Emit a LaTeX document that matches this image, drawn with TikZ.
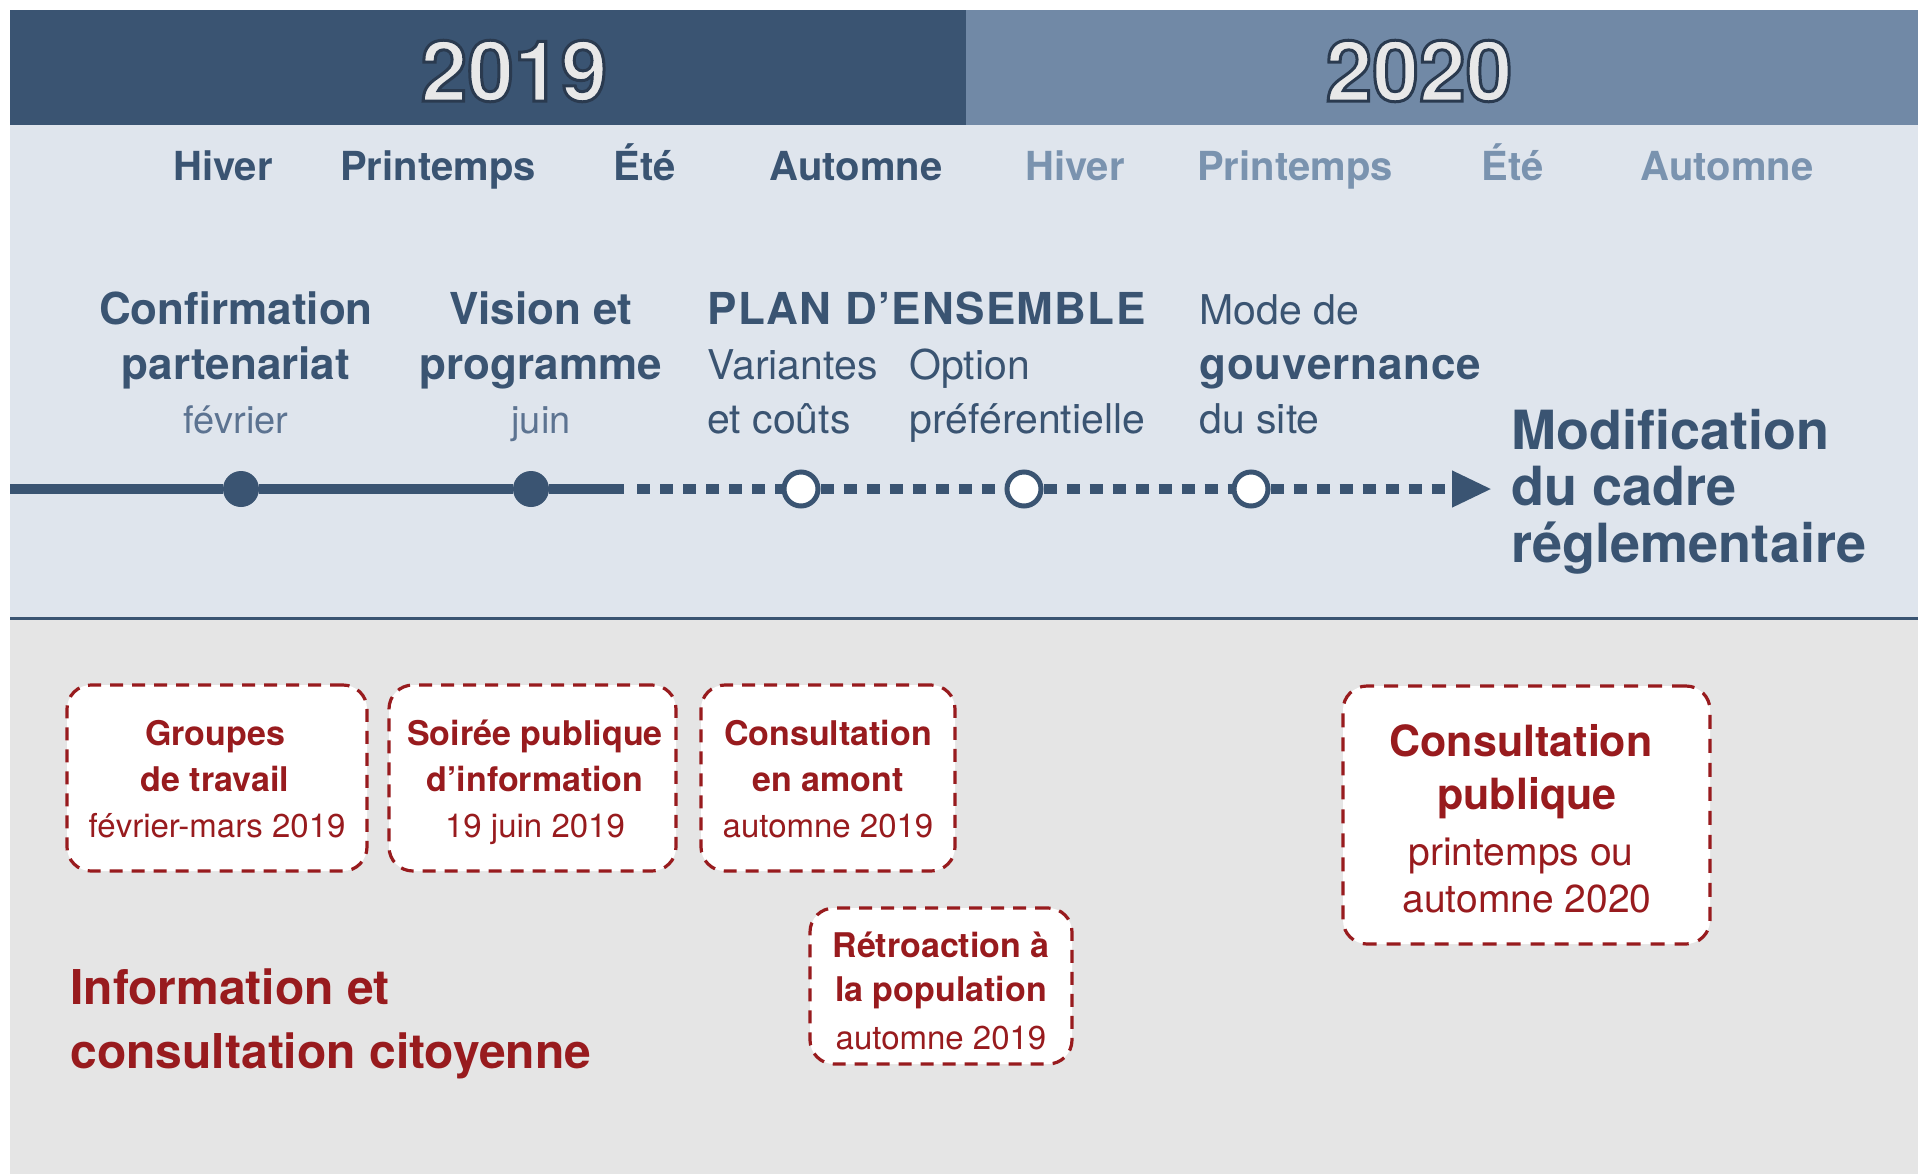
\documentclass[tikz,border=0pt]{standalone}
\usepackage{fontspec}
\setmainfont{TeX Gyre Heros}
\usetikzlibrary{arrows.meta,calc}
\definecolor{navy}{HTML}{3A5472}
\definecolor{steel}{HTML}{7189A6}
\definecolor{seasonlight}{HTML}{7A93AF}
\definecolor{paleblue}{HTML}{DFE5ED}
\definecolor{palegrey}{HTML}{E5E5E5}
\definecolor{brick}{HTML}{981B1E}
\definecolor{yearfill}{HTML}{E8E8E8}
\definecolor{softnavy}{HTML}{5C7391}
\newcommand{\yearout}[1]{{\color{yearfill}\special{pdf:literal direct 2 Tr 1.5 w 0.165 0.227 0.31 RG}#1\special{pdf:literal direct 0 Tr}}}
\begin{document}
\begin{tikzpicture}[x=0.5pt,y=-0.5pt,
  every node/.style={inner sep=0pt},
  yeartxt/.style={font=\fontsize{42}{42}\selectfont\bfseries},
  season/.style={font=\fontsize{20}{24}\selectfont\bfseries, anchor=mid},
  ttl/.style={font=\fontsize{22}{26}\selectfont\bfseries, text=navy, anchor=mid},
  ttlw/.style={font=\fontsize{22}{26}\selectfont\bfseries, text=navy, anchor=mid west},
  subc/.style={font=\fontsize{19}{23}\selectfont, text=softnavy, anchor=mid},
  regw/.style={font=\fontsize{20.5}{24}\selectfont, text=navy, anchor=mid west},
  bigw/.style={font=\fontsize{27}{32}\selectfont\bfseries, text=navy, anchor=mid west},
  fulldot/.style={circle, fill=navy, minimum size=18pt},
  opendot/.style={circle, fill=white, draw=navy, line width=2.5pt, minimum size=17pt},
  solidline/.style={navy, line width=5pt},
  dashline/.style={navy, line width=5pt, dash pattern=on 6.5pt off 5pt},
  evbox/.style={draw=brick, fill=white, line width=1.6pt, dash pattern=on 6.5pt off 4.5pt, rounded corners=12pt},
  boxttl/.style={font=\fontsize{17}{20}\selectfont\bfseries, text=brick, anchor=mid},
  boxsub/.style={font=\fontsize{16.5}{20}\selectfont, text=brick, anchor=mid},
  bigttl/.style={font=\fontsize{21.5}{26}\selectfont\bfseries, text=brick, anchor=mid},
  bigsub/.style={font=\fontsize{19.5}{24}\selectfont, text=brick, anchor=mid},
  infottl/.style={font=\fontsize{24}{28}\selectfont\bfseries, text=brick, anchor=mid west}
]
\useasboundingbox (0,0) rectangle (1918,1174);
\fill[white] (0,0) rectangle (1918,1174);
% bands
\fill[navy] (10,10) rectangle (966,125);
\fill[steel] (966,10) rectangle (1918,125);
\fill[paleblue] (10,125) rectangle (1918,618);
\fill[palegrey] (10,618) rectangle (1918,1174);
\draw[navy, line width=1.5pt] (10,618) -- (1918,618);

% years with outline
\node[yeartxt] (y2019) at (514,71) {\yearout{2019}};
\node[yeartxt] (y2020) at (1419,71) {\yearout{2020}};

% seasons
\node[season, text=navy] (s1) at (223,175) {Hiver};
\node[season, text=navy] (s2) at (438,175) {Printemps};
\node[season, text=navy] (s3) at (645,175) {Été};
\node[season, text=navy] (s4) at (856,175) {Automne};
\node[season, text=seasonlight] (s5) at (1075,175) {Hiver};
\node[season, text=seasonlight] (s6) at (1295,175) {Printemps};
\node[season, text=seasonlight] (s7) at (1513,175) {Été};
\node[season, text=seasonlight] (s8) at (1727,175) {Automne};

% milestone labels
\node[ttl] (c1) at (236,319) {Confirmation};
\node[ttl] (c2) at (236,374) {partenariat};
\node[subc] (c3) at (236,428) {février};
\node[ttl] (v1) at (541,319) {Vision et};
\node[ttl] (v2) at (541,374) {programme};
\node[subc] (v3) at (541,428) {juin};
\node[ttlw] (p1) at (707,319) {\addfontfeature{LetterSpace=3}PLAN D’ENSEMBLE};
\node[regw] (p2) at (707,374) {Variantes};
\node[regw] (p3) at (707,428) {et coûts};
\node[regw] (o1) at (909,374) {Option};
\node[regw] (o2) at (909,428) {préférentielle};
\node[regw] (m1) at (1199,319) {Mode de};
\node[ttlw] (m2) at (1199,374) {\addfontfeature{LetterSpace=2}gouvernance};
\node[regw] (m3) at (1199,428) {du site};
\node[bigw] (r1) at (1511,444) {Modification};
\node[bigw] (r2) at (1511,500) {du cadre};
\node[bigw] (r3) at (1511,557) {réglementaire};

% timeline
\coordinate (tstart) at (10,489);
\coordinate (tsolid) at (624,489);
\coordinate (tdash) at (637,489);
\coordinate (tend) at (1492,489);
\node[fulldot] (d1) at (241,489) {};
\node[fulldot] (d2) at (531,489) {};
\node[opendot] (e1) at (801,489) {};
\node[opendot] (e2) at (1024,489) {};
\node[opendot] (e3) at (1251,489) {};
\draw[solidline] (tstart) -- (d1) -- (d2) -- (tsolid);
\draw[dashline] (tdash) -- (e1);
\draw[dashline] (e1) -- (e2);
\draw[dashline] (e2) -- (e3);
\draw[dashline, -{Triangle[length=20pt,width=17pt]}] (e3) -- (tend);

% event boxes
\node[evbox, minimum width=150pt, minimum height=93pt] (b1) at (217,778) {};
\node[evbox, minimum width=143.5pt, minimum height=93pt] (b2) at (532.5,778) {};
\node[evbox, minimum width=127pt, minimum height=93pt] (b3) at (828,778) {};
\node[evbox, minimum width=131pt, minimum height=78pt] (b4) at (941,986) {};
\node[evbox, minimum width=183.5pt, minimum height=129pt, dash pattern=on 7pt off 5pt] (b5) at (1526.5,815) {};

\node[boxttl] (b1a) at (215,740) {Groupes};
\node[boxttl] (b1b) at (215,786) {de travail};
\node[boxsub] (b1c) at (217,832) {février-mars 2019};
\node[boxttl] (b2a) at (535,740) {Soirée publique};
\node[boxttl] (b2b) at (535,786) {d’information};
\node[boxsub] (b2c) at (535,832) {19 juin 2019};
\node[boxttl] (b3a) at (828,740) {Consultation};
\node[boxttl] (b3b) at (828,786) {en amont};
\node[boxsub] (b3c) at (828,832) {automne 2019};
\node[boxttl] (b4a) at (941,952) {Rétroaction à};
\node[boxttl] (b4b) at (941,996) {la population};
\node[boxsub] (b4c) at (941,1044) {automne 2019};
\node[bigttl] (b5a) at (1521,751) {Consultation};
\node[bigttl] (b5b) at (1527,804) {publique};
\node[bigsub] (b5c) at (1521,860) {printemps ou};
\node[bigsub] (b5d) at (1527,907) {automne 2020};

\node[infottl] (i1) at (70,999) {Information et};
\node[infottl] (i2) at (70,1063) {consultation citoyenne};
\end{tikzpicture}
\end{document}
